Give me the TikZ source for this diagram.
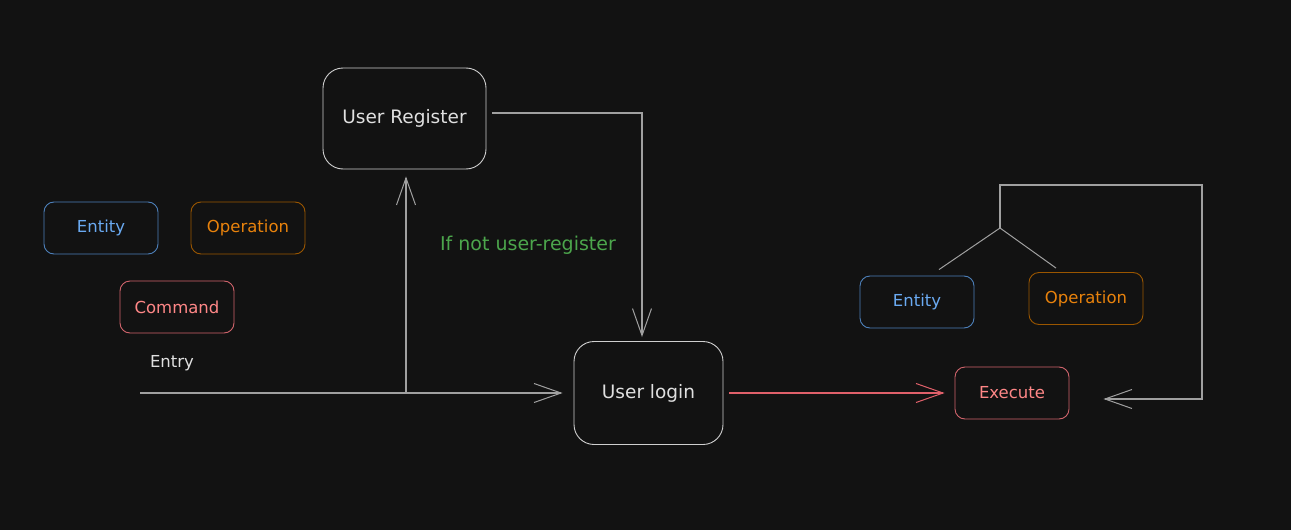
\documentclass[tikz,border=0pt]{standalone}
\usepackage{fontspec}
\setmainfont{DejaVu Sans}
\usetikzlibrary{arrows.meta,calc}
\definecolor{bg}{HTML}{121212}
\definecolor{lgray}{HTML}{A0A0A0}
\definecolor{bgray}{HTML}{CFCFCF}
\definecolor{bluebd}{HTML}{4D80BA}
\definecolor{bluetx}{HTML}{6AAAF2}
\definecolor{orbd}{HTML}{9A5600}
\definecolor{ortx}{HTML}{E8820C}
\definecolor{redbd}{HTML}{D0646C}
\definecolor{redln}{HTML}{E0606A}
\definecolor{redtx}{HTML}{FF8787}
\definecolor{grtx}{HTML}{4CA64C}
\definecolor{wtx}{HTML}{E0E0E0}
\tikzset{
  bigbox/.style={draw=bgray, line width=0.9pt, rounded corners=20pt, minimum width=163pt, minimum height=101pt, text=wtx, font=\fontsize{18.5}{20}\selectfont, inner sep=0pt},
  smallbox/.style={line width=0.9pt, rounded corners=10pt, minimum width=114pt, minimum height=52pt, font=\fontsize{16.5}{18}\selectfont, inner sep=0pt},
  bluebox/.style={smallbox, draw=bluebd, text=bluetx},
  orbox/.style={smallbox, draw=orbd, text=ortx},
  redbox/.style={smallbox, draw=redbd, text=redtx},
  conn/.style={draw=lgray, line width=1.3pt},
  redconn/.style={draw=redln, line width=1.5pt},
  tip/.style={-{Straight Barb[length=27pt,width=19pt,line width=1pt]}},
  lbl/.style={font=\fontsize{17}{19}\selectfont, inner sep=0pt}
}
\begin{document}
\begin{tikzpicture}[x=1pt,y=-1pt]
\fill[bg] (0,0) rectangle (1291,530);
\useasboundingbox (0,0) rectangle (1291,530);

\node[bluebox] (ent1) at (101,228) {Entity};
\node[orbox] (op1) at (248,228) {Operation};
\node[redbox] (cmd) at (177,307) {Command};
\node[lbl, text=wtx, font=\fontsize{16.5}{18}\selectfont] (entry) at (172,363) {Entry};

\node[bigbox, minimum width=163pt] (reg) at (404.5,118.5) {User Register};
\node[bigbox, minimum width=149pt, minimum height=103pt] (login) at (648.5,393) {User login};
\node[redbox] (exec) at (1012,393) {Execute};
\node[bluebox] (ent2) at (917,302) {Entity};
\node[orbox] (op2) at (1086,298.5) {Operation};
\node[lbl, text=grtx, font=\fontsize{19}{21}\selectfont] (cond) at (528,245) {If not user-register};

\coordinate (start) at (140,393);
\coordinate (branch) at (406,393);
\coordinate (j) at (1000,228);
\coordinate (c1) at (1000,185);
\coordinate (c2) at (1202,185);
\coordinate (c3) at (1202,399);

% entry arrow
\draw[conn, tip, shorten >=11pt] (start) -- (login.west |- start);
\draw[conn, tip, shorten >=7pt] (branch) -- (branch |- reg.south);
% register to login
\draw[conn, tip] ($(reg.east)+(6,-5.5)$) -| ($(login.north)+(-6.5,-4)$);
% login to execute
\draw[redconn, tip, shorten <=6pt, shorten >=10pt] (login.east) -- (exec.west);
% right bracket
\draw[conn, line width=1pt] ($(ent2.north)+(22,-6)$) -- (j) -- ($(op2.north)+(-30,-4)$);
\draw[conn, tip] (j) -- (c1) -- (c2) -- (c3) -- ($(exec.east)+(34,6)$);
\end{tikzpicture}
\end{document}
